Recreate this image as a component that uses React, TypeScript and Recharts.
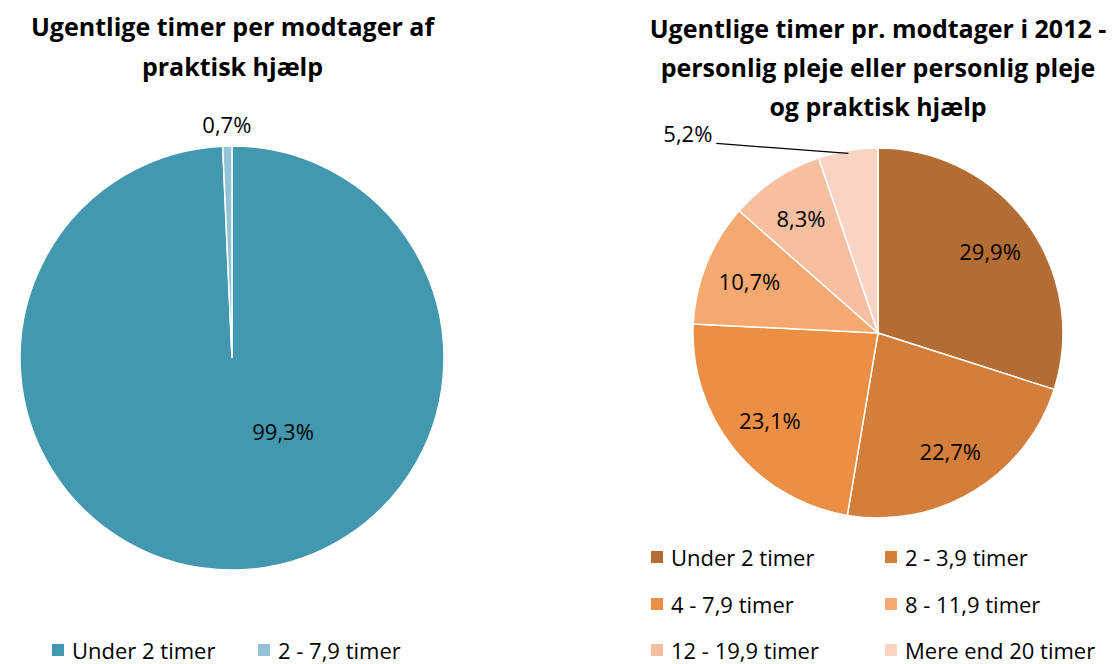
import { PieChart, Pie, Cell } from 'recharts';

const practicalCategories = ['Under 2 timer', '2 - 7,9 timer'];
const practicalValues = [99.3, 0.7];
const practicalColors = ['#4298AF', '#93C3D4'];

const personalCategories = [
  'Under 2 timer',
  '2 - 3,9 timer',
  '4 - 7,9 timer',
  '8 - 11,9 timer',
  '12 - 19,9 timer',
  'Mere end 20 timer',
];
const personalValues = [29.9, 22.7, 23.1, 10.7, 8.3, 5.2];
const personalColors = ['#B36C33', '#D37E3B', '#EC8E44', '#F5A971', '#F7BFA0', '#F9D4C3'];

const FONT = "'Open Sans', 'Noto Sans', sans-serif";
const RAD = Math.PI / 180;
const NO_MARGIN = { top: 0, right: 0, bottom: 0, left: 0 };

const fmt = (v: number) => `${v.toFixed(1).replace('.', ',')}%`;

type LabelProps = {
  cx: number;
  cy: number;
  midAngle: number;
  outerRadius: number;
  value: number;
  percent: number;
};

function practicalLabel(p: LabelProps) {
  const { cx, cy, midAngle, outerRadius, value, percent } = p;
  let r = outerRadius + 22;
  let angle = midAngle;
  if (percent > 0.5) {
    r = outerRadius * 0.42;
    angle = -55;
  }
  const x = cx + r * Math.cos(angle * RAD);
  const y = cy - r * Math.sin(angle * RAD);
  return (
    <text x={x} y={y} textAnchor="middle" dominantBaseline="central" fontSize={22} fill="#000" fontFamily={FONT}>
      {fmt(value)}
    </text>
  );
}

function personalLabel(p: LabelProps) {
  const { cx, cy, midAngle, outerRadius, value, percent } = p;
  if (percent < 0.06) {
    // small slice: label outside with a leader line
    const ex = cx + (outerRadius - 3) * Math.cos(midAngle * RAD);
    const ey = cy - (outerRadius - 3) * Math.sin(midAngle * RAD);
    const lx = ex - 132;
    const ly = ey - 10;
    return (
      <g>
        <polyline points={`${ex},${ey} ${lx},${ly}`} stroke="#000" strokeWidth={1.2} fill="none" />
        <text x={lx - 4} y={ly - 10} textAnchor="end" dominantBaseline="central" fontSize={22} fill="#000" fontFamily={FONT}>
          {fmt(value)}
        </text>
      </g>
    );
  }
  const r = outerRadius * 0.75;
  const x = cx + r * Math.cos(midAngle * RAD);
  const y = cy - r * Math.sin(midAngle * RAD);
  return (
    <text x={x} y={y} textAnchor="middle" dominantBaseline="central" fontSize={22} fill="#000" fontFamily={FONT}>
      {fmt(value)}
    </text>
  );
}

function LegendItem({ color, label, x, y }: { color: string; label: string; x: number; y: number }) {
  return (
    <div style={{ position: 'absolute', left: x, top: y - 13, height: 26, display: 'flex', alignItems: 'center', whiteSpace: 'nowrap' }}>
      <span style={{ width: 12, height: 12, background: color, display: 'inline-block', marginRight: 8 }} />
      <span style={{ fontSize: 22, lineHeight: '26px', fontFamily: FONT, color: '#000' }}>{label}</span>
    </div>
  );
}

export default function App() {
  const practicalData = practicalCategories.map((name, i) => ({ name, value: practicalValues[i] }));
  const personalData = personalCategories.map((name, i) => ({ name, value: personalValues[i] }));

  return (
    <div style={{ position: 'absolute', left: 0, top: 0, width: 1115, height: 664, background: '#fff', overflow: 'hidden' }}>
      <div
        style={{
          position: 'absolute',
          left: -20,
          top: 6,
          width: 505,
          textAlign: 'center',
          fontFamily: FONT,
          fontWeight: 700,
          fontSize: 25,
          lineHeight: '40px',
          whiteSpace: 'nowrap',
        }}
      >
        Ugentlige timer per modtager af
        <br />
        praktisk hjælp
      </div>
      <div
        style={{
          position: 'absolute',
          left: 618,
          top: 9,
          width: 520,
          textAlign: 'center',
          fontFamily: FONT,
          fontWeight: 700,
          fontSize: 25,
          lineHeight: '39px',
          whiteSpace: 'nowrap',
        }}
      >
        Ugentlige timer pr. modtager i 2012 -
        <br />
        personlig pleje eller personlig pleje
        <br />
        og praktisk hjælp
      </div>

      <div style={{ position: 'absolute', left: 0, top: 0 }}>
        <PieChart width={465} height={600} margin={NO_MARGIN}>
          <Pie
            data={practicalData}
            dataKey="value"
            nameKey="name"
            cx={232}
            cy={358}
            outerRadius={212}
            startAngle={90}
            endAngle={-270}
            stroke="#fff"
            strokeWidth={1.5}
            label={practicalLabel}
            labelLine={false}
            isAnimationActive={false}
          >
            {practicalData.map((d, i) => (
              <Cell key={d.name} fill={practicalColors[i]} />
            ))}
          </Pie>
        </PieChart>
      </div>

      <div style={{ position: 'absolute', left: 600, top: 0 }}>
        <PieChart width={515} height={540} margin={NO_MARGIN}>
          <Pie
            data={personalData}
            dataKey="value"
            nameKey="name"
            cx={278}
            cy={333}
            outerRadius={185}
            startAngle={90}
            endAngle={-270}
            stroke="#fff"
            strokeWidth={1.5}
            label={personalLabel}
            labelLine={false}
            isAnimationActive={false}
          >
            {personalData.map((d, i) => (
              <Cell key={d.name} fill={personalColors[i]} />
            ))}
          </Pie>
        </PieChart>
      </div>

      <LegendItem color={practicalColors[0]} label={practicalCategories[0]} x={52} y={650} />
      <LegendItem color={practicalColors[1]} label={practicalCategories[1]} x={258} y={650} />

      {personalCategories.map((c, i) => (
        <LegendItem
          key={c}
          color={personalColors[i]}
          label={c}
          x={i % 2 === 0 ? 651 : 885}
          y={557 + Math.floor(i / 2) * 46.5}
        />
      ))}
    </div>
  );
}
